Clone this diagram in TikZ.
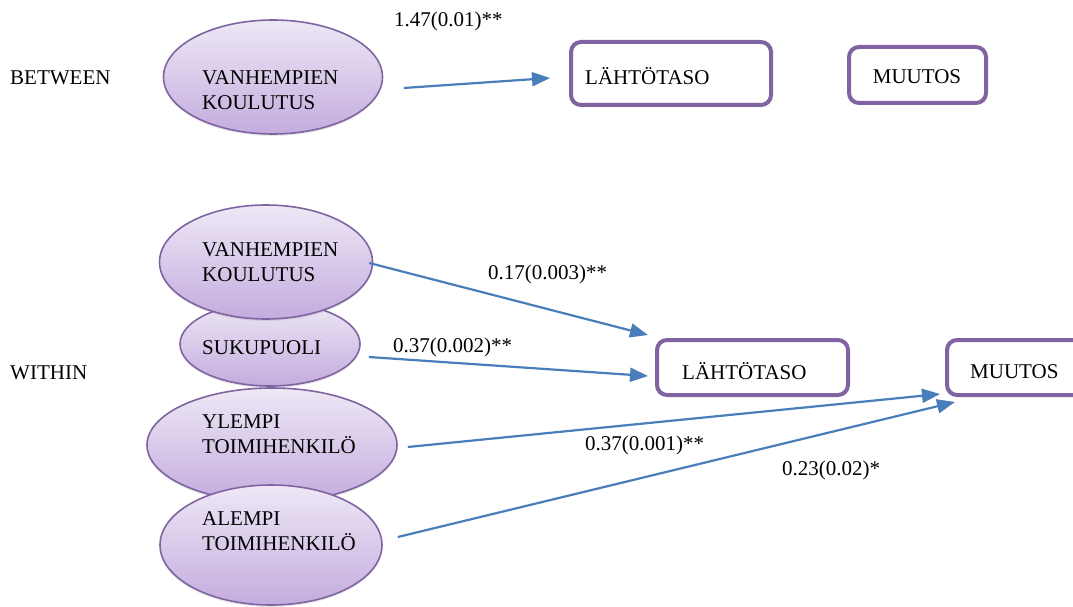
\documentclass[tikz,border=0pt]{standalone}
\usepackage{fontspec}
\setmainfont{Liberation Serif}
\usetikzlibrary{arrows.meta,calc,shadows,shapes.geometric}
\definecolor{arrowblue}{HTML}{4A7EBB}
\definecolor{boxpurple}{HTML}{8064A2}
\definecolor{elltop}{HTML}{EEE8F6}
\definecolor{ellbot}{HTML}{C3ACDE}
\begin{document}
\begin{tikzpicture}[x=1pt,y=-1pt,
  every node/.style={font=\fontsize{21}{25}\selectfont},
  ell/.style={ellipse, draw=boxpurple, line width=1.6pt, top color=elltop, bottom color=ellbot, inner sep=0pt,
    drop shadow={opacity=0.18, shadow xshift=0pt, shadow yshift=-2pt}},
  box/.style={draw=boxpurple, line width=4pt, rounded corners=10pt, fill=white, inner sep=0pt},
  lbl/.style={inner sep=0pt, anchor=west, align=left},
  arr/.style={draw=arrowblue, line width=2.2pt, -{Triangle[length=18pt,width=14pt]}}
]
\useasboundingbox (0,0) rectangle (1073,607);
\clip (0,0) rectangle (1073,607);

% group labels
\node[lbl] (between) at (10,78) {BETWEEN};
\node[lbl] (within) at (10,373) {WITHIN};

% BETWEEN level
\node[ell, minimum width=219, minimum height=114] (bv) at (273,77) {};
\node[lbl] (bvt) at (202,90.5) {VANHEMPIEN\\KOULUTUS};
\node[box, minimum width=200, minimum height=63] (lt1) at (671,73.5) {};
\node[lbl] (lt1t) at (585,76.5) {LÄHTÖTASO};
\node[box, minimum width=137, minimum height=56] (mu1) at (917.5,75) {};
\node[inner sep=0pt] (mu1t) at (917,77) {MUUTOS};

\draw[arr] ($(bv.east)+(20.5,11)$) -- ($(lt1.west)+(-19,4.5)$);
\node[lbl] (l1) at (394,21) {1.47(0.01)**};

% WITHIN level
\node[ell, minimum width=180, minimum height=84] (su) at (270,344) {};
\node[lbl] (sut) at (202,348) {SUKUPUOLI};
\node[ell, minimum width=213, minimum height=114] (vw) at (266,262) {};
\node[lbl] (vwt) at (202,262.5) {VANHEMPIEN\\KOULUTUS};
\node[ell, minimum width=250, minimum height=114] (yl) at (272,445) {};
\node[lbl] (ylt) at (202,434.5) {YLEMPI\\TOIMIHENKILÖ};
\node[ell, minimum width=222, minimum height=120] (al) at (271,545) {};
\node[lbl] (alt) at (202,531.5) {ALEMPI\\TOIMIHENKILÖ};

\node[box, minimum width=191, minimum height=55] (lw) at (752.5,367.5) {};
\node[lbl] (lwt) at (682,371.5) {LÄHTÖTASO};
\node[box, minimum width=136, minimum height=55] (mw) at (1015,367.5) {};
\node[lbl] (mwt) at (970,371.5) {MUUTOS};

\draw[arr] ($(vw.east)+(-4,1)$) -- ($(lw.north west)+(-7,-3)$);
\draw[arr] ($(su.east)+(8,13)$) -- ($(lw.west)+(-7,8.5)$);
\draw[arr] ($(yl.east)+(10,2)$) -- ($(mw.south west)+(-5,-3)$);
\draw[arr] ($(al.east)+(15,-8)$) -- ($(mw.south west)+(10,5)$);

\node[lbl] (l2) at (488,274) {0.17(0.003)**};
\node[lbl] (l3) at (393,347) {0.37(0.002)**};
\node[lbl] (l4) at (585,445) {0.37(0.001)**};
\node[lbl] (l5) at (782,470) {0.23(0.02)*};
\end{tikzpicture}
\end{document}
